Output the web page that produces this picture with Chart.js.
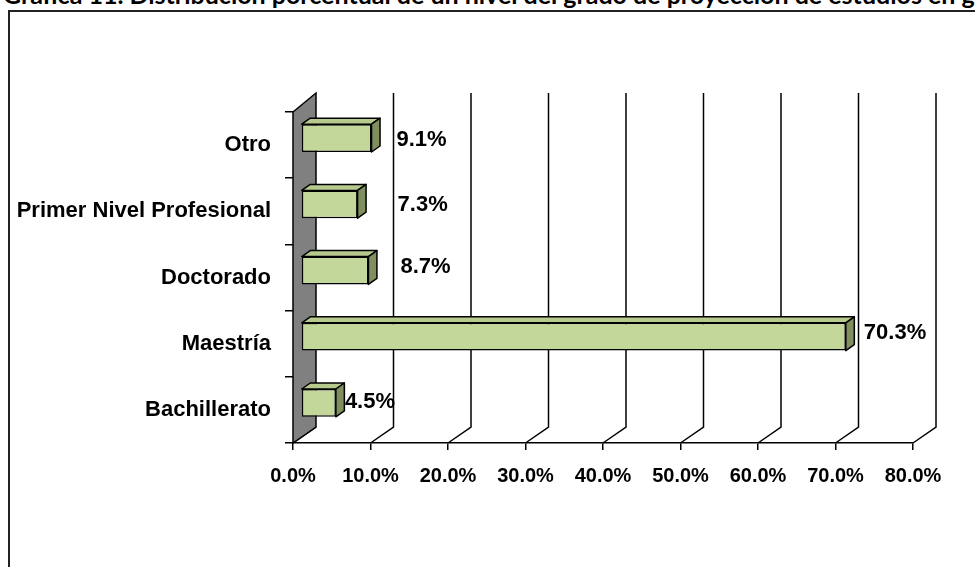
<!DOCTYPE html>
<html>
<head>
<meta charset="utf-8">
<script src="https://cdn.jsdelivr.net/npm/chart.js@4.4.1/dist/chart.umd.min.js"></script>
<style>
  html, body { margin: 0; padding: 0; width: 975px; height: 567px; overflow: hidden; background: #fff; }
  #frame { position: absolute; left: 8px; top: 10px; width: 2000px; height: 2000px; border-left: 2px solid #222; border-top: 2px solid #222; }
  #title { position: absolute; left: 3px; top: -18px; white-space: nowrap; font-family: Lato, "Open Sans", sans-serif; font-weight: 700; font-size: 25px; line-height: 25px; color: #000; }
  #wrap { position: absolute; left: 0; top: 0; width: 975px; height: 567px; }
</style>
</head>
<body>
<div id="frame"></div>
<div id="title">Gráfica 11. Distribución porcentual de un nivel del grado de proyección de estudios en general</div>
<div id="wrap"><canvas id="c" width="975" height="567"></canvas></div>
<script>
// ---- data ----
const categories = ['Otro', 'Primer Nivel Profesional', 'Doctorado', 'Maestría', 'Bachillerato'];
const values = [9.1, 7.3, 8.7, 70.3, 4.5];
const tickValues = [0, 10, 20, 30, 40, 50, 60, 70, 80];

// ---- layout / style (not data) ----
const labelNudgeX = [25, 40, 32, 18, 9];
const labelNudgeY = [2, 1, -4, -4, -1];
const DEPTH_DX = 23, DEPTH_DY_TOP = -19, DEPTH_DY_BOT = -16;
const BAR_SHIFT_X = 8, BAR_SHIFT_Y = -7;
const BAR_DEPTH_X = 8.5, BAR_DEPTH_Y = -6;
const SANS = '"Liberation Sans", Arial, sans-serif';

const threeD = {
  id: 'threeD',
  beforeDatasetsDraw(chart) {
    const ctx = chart.ctx, a = chart.chartArea, xs = chart.scales.x;
    ctx.save();
    ctx.strokeStyle = '#000';
    ctx.lineWidth = 1.5;
    tickValues.forEach(v => {
      const xf = xs.getPixelForValue(v);
      ctx.beginPath();
      ctx.moveTo(xf, a.bottom);
      ctx.lineTo(xf + DEPTH_DX, a.bottom + DEPTH_DY_BOT);
      if (v > 0) ctx.lineTo(xf + DEPTH_DX, a.top + DEPTH_DY_TOP);
      ctx.stroke();
    });
    const x0 = xs.getPixelForValue(0);
    ctx.beginPath();
    ctx.moveTo(x0, a.top);
    ctx.lineTo(x0 + DEPTH_DX, a.top + DEPTH_DY_TOP);
    ctx.lineTo(x0 + DEPTH_DX, a.bottom + DEPTH_DY_BOT);
    ctx.lineTo(x0, a.bottom);
    ctx.closePath();
    ctx.fillStyle = '#808080';
    ctx.fill();
    ctx.stroke();
    ctx.restore();
    ctx.save();
    ctx.translate(BAR_SHIFT_X, BAR_SHIFT_Y);
  },
  afterDatasetsDraw(chart) {
    const ctx = chart.ctx;
    const meta = chart.getDatasetMeta(0);
    ctx.lineWidth = 1.5;
    ctx.strokeStyle = '#000';
    ctx.lineJoin = 'round';
    meta.data.forEach((bar, i) => {
      const p = bar.getProps(['x', 'y', 'base', 'height'], true);
      const x0 = p.base, x1 = p.x, y0 = p.y - p.height / 2, y1 = p.y + p.height / 2;
      ctx.beginPath();
      ctx.moveTo(x0, y0);
      ctx.lineTo(x0 + BAR_DEPTH_X, y0 + BAR_DEPTH_Y);
      ctx.lineTo(x1 + BAR_DEPTH_X, y0 + BAR_DEPTH_Y);
      ctx.lineTo(x1, y0);
      ctx.closePath();
      ctx.fillStyle = '#B7CA8D';
      ctx.fill();
      ctx.stroke();
      ctx.beginPath();
      ctx.moveTo(x1, y0);
      ctx.lineTo(x1 + BAR_DEPTH_X, y0 + BAR_DEPTH_Y);
      ctx.lineTo(x1 + BAR_DEPTH_X, y1 + BAR_DEPTH_Y);
      ctx.lineTo(x1, y1);
      ctx.closePath();
      ctx.fillStyle = '#7F8F5E';
      ctx.fill();
      ctx.stroke();
      ctx.fillStyle = '#000';
      ctx.font = 'bold 22px ' + SANS;
      ctx.textAlign = 'left';
      ctx.textBaseline = 'middle';
      ctx.fillText(values[i].toFixed(1) + '%', x1 + labelNudgeX[i], p.y + labelNudgeY[i]);
    });
    ctx.restore();
  }
};

new Chart(document.getElementById('c'), {
  type: 'bar',
  data: {
    labels: categories,
    datasets: [{
      data: values,
      backgroundColor: '#C4D79B',
      borderColor: '#000',
      borderWidth: 1.5,
      borderSkipped: false,
      categoryPercentage: 1,
      barPercentage: 0.42,
      clip: false
    }]
  },
  options: {
    indexAxis: 'y',
    responsive: false,
    devicePixelRatio: 1,
    animation: false,
    events: [],
    layout: { padding: { top: 112, right: 62, bottom: 0, left: 0 } },
    plugins: { legend: { display: false }, tooltip: { enabled: false }, title: { display: false } },
    scales: {
      x: {
        min: 0, max: 80,
        afterFit(s) { s.height = 124; },
        afterBuildTicks(s) { s.ticks = tickValues.map(v => ({ value: v })); },
        ticks: {
          color: '#000',
          padding: 14,
          font: { family: SANS, weight: 'bold', size: 20 },
          callback: v => Number(v).toFixed(1) + '%'
        },
        grid: { drawOnChartArea: false, drawTicks: true, tickLength: 7, color: '#000', lineWidth: 1.5 },
        border: { display: true, color: '#000', width: 1.5 }
      },
      y: {
        afterFit(s) { s.width = 293; },
        ticks: {
          color: '#000',
          padding: 14,
          font: { family: SANS, weight: 'bold', size: 22 }
        },
        grid: { drawOnChartArea: false, drawTicks: true, tickLength: 8, color: '#000', lineWidth: 1.5, offset: true },
        border: { display: false }
      }
    }
  },
  plugins: [threeD]
});
</script>
</body>
</html>
